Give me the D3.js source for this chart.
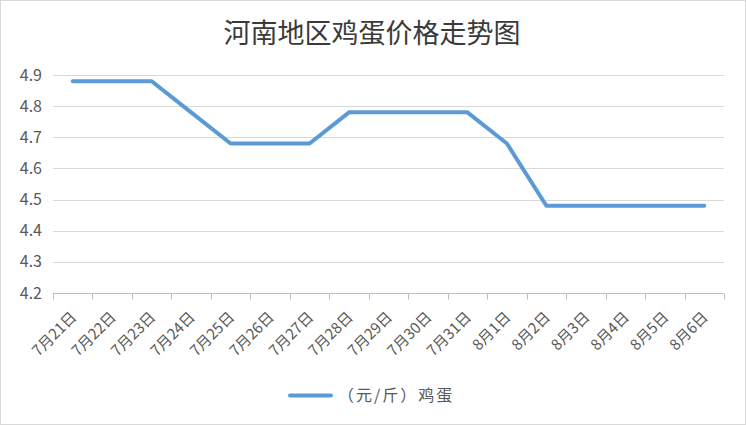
<!DOCTYPE html>
<html>
<head>
<meta charset="utf-8">
<script src="https://cdn.jsdelivr.net/npm/d3@7"></script>
<style>
  body { margin: 0; background: #fff; }
  .grid line { stroke: #d9d9d9; stroke-width: 1; }
  .axis-label { font-family: "Noto Sans CJK SC", "Noto Sans", sans-serif; fill: #595959; }
</style>
</head>
<body>
<div id="chart"></div>
<script>
// data
var dates = ["7月21日", "7月22日", "7月23日", "7月24日", "7月25日", "7月26日", "7月27日", "7月28日",
    "7月29日", "7月30日", "7月31日", "8月1日", "8月2日", "8月3日", "8月4日", "8月5日", "8月6日"];
var prices = [4.88, 4.88, 4.88, 4.78, 4.68, 4.68, 4.68, 4.78, 4.78, 4.78, 4.78, 4.68, 4.48, 4.48, 4.48, 4.48, 4.48];
var yTicks = [4.2, 4.3, 4.4, 4.5, 4.6, 4.7, 4.8, 4.9];
var title = "河南地区鸡蛋价格走势图";
var seriesName = "（元/斤）鸡蛋";

var W = 746, H = 425;
var margin = {top: 75, right: 22, bottom: 132, left: 53};
var width = W - margin.left - margin.right;
var height = H - margin.top - margin.bottom;

var svg = d3.select("#chart").append("svg")
    .attr("width", W)
    .attr("height", H);

// outer frame
svg.append("rect")
    .attr("x", 0.5).attr("y", 0.5)
    .attr("width", W - 1).attr("height", H - 1)
    .attr("fill", "#fff")
    .attr("stroke", "#d9d9d9");

svg.append("text")
    .attr("x", 372)
    .attr("y", 43)
    .attr("text-anchor", "middle")
    .style("font-family", "'Noto Sans CJK SC', sans-serif")
    .style("font-size", "27px")
    .style("fill", "#3a3a3a")
    .text(title);

var g = svg.append("g")
    .attr("transform", "translate(" + margin.left + "," + margin.top + ")");

var x = d3.scaleBand()
    .domain(dates)
    .range([0, width]);

var y = d3.scaleLinear()
    .domain([4.2, 4.9])
    .range([height, 0]);

// gridlines
g.append("g")
    .attr("class", "grid")
    .selectAll("line")
    .data(yTicks.slice(1))
    .enter().append("line")
    .attr("x1", 0)
    .attr("x2", width)
    .attr("y1", function(d) { return Math.round(y(d)) + 0.5; })
    .attr("y2", function(d) { return Math.round(y(d)) + 0.5; });

// y labels
g.selectAll(".y-label")
    .data(yTicks)
    .enter().append("text")
    .attr("class", "axis-label y-label")
    .attr("x", -11)
    .attr("y", function(d) { return y(d); })
    .attr("dy", "0.35em")
    .attr("text-anchor", "end")
    .style("font-size", "16px")
    .text(function(d) { return d.toFixed(1); });

// x axis line + ticks at band edges
var xAxisG = g.append("g")
    .attr("transform", "translate(0," + (Math.round(height) + 0.5) + ")");

xAxisG.append("line")
    .attr("x1", 0).attr("x2", width)
    .attr("stroke", "#bfbfbf");

var edges = dates.map(function(d) { return x(d); }).concat([width]);
xAxisG.selectAll(".tick-mark")
    .data(edges)
    .enter().append("line")
    .attr("class", "tick-mark")
    .attr("x1", function(d) { return Math.round(d) + 0.5; })
    .attr("x2", function(d) { return Math.round(d) + 0.5; })
    .attr("y1", 0)
    .attr("y2", 6)
    .attr("stroke", "#bfbfbf");

xAxisG.selectAll(".x-label")
    .data(dates)
    .enter().append("text")
    .attr("class", "axis-label x-label")
    .attr("text-anchor", "end")
    .style("font-size", "15px")
    .attr("transform", function(d) {
        return "translate(" + (x(d) + x.bandwidth() / 2 + 1) + ",21) rotate(-45)";
    })
    .attr("dy", "0.35em")
    .text(function(d) { return d; });

// the line
var line = d3.line()
    .x(function(d, i) { return x(dates[i]) + x.bandwidth() / 2; })
    .y(function(d) { return y(d); })
    .curve(d3.curveLinear);

g.append("path")
    .datum(prices)
    .attr("fill", "none")
    .attr("stroke", "#5b9bd5")
    .attr("stroke-width", 4)
    .attr("stroke-linecap", "round")
    .attr("stroke-linejoin", "round")
    .attr("d", line);

// legend
var legend = svg.append("g")
    .attr("transform", "translate(290,395.5)");

legend.append("line")
    .attr("x1", 0).attr("x2", 41)
    .attr("stroke", "#5b9bd5")
    .attr("stroke-width", 4)
    .attr("stroke-linecap", "round");

legend.append("text")
    .attr("class", "axis-label")
    .attr("x", 48)
    .attr("dy", "0.35em")
    .style("font-size", "16px")
    .style("letter-spacing", "2px")
    .text(seriesName);
</script>
</body>
</html>
